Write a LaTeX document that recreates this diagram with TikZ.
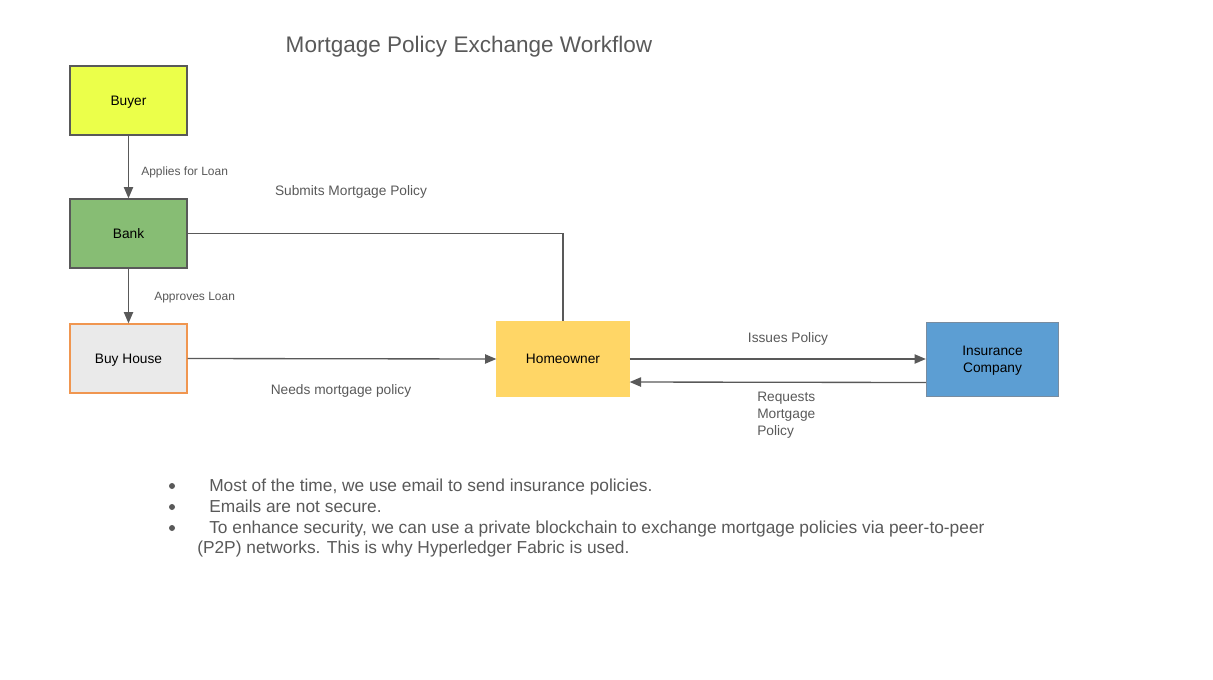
\documentclass[tikz,border=0pt]{standalone}
\usepackage{fontspec}
\setmainfont{Liberation Sans}
\usetikzlibrary{arrows.meta}
\definecolor{buyerfill}{RGB}{235,255,74}
\definecolor{bankfill}{RGB}{135,189,116}
\definecolor{housefill}{RGB}{234,234,234}
\definecolor{houseline}{RGB}{240,150,80}
\definecolor{ownerfill}{RGB}{255,214,102}
\definecolor{insfill}{RGB}{92,158,211}
\definecolor{insline}{RGB}{120,140,160}
\definecolor{boxline}{RGB}{89,89,89}
\definecolor{textgray}{RGB}{89,89,89}

\begin{document}
\begin{tikzpicture}[
        x=0.75pt, y=-0.75pt,
        box/.style = {rectangle, draw=boxline, line width=1pt, minimum width=87.75pt, minimum height=51.75pt, inner sep=2pt, align=center, text depth=0pt, font=\fontsize{10.3}{12.5}\selectfont},
        bigbox/.style = {box, minimum width=99pt, minimum height=55.5pt},
        arrow/.style = {draw=boxline, line width=1pt, -{Triangle[length=8.5pt, width=7pt]}},
        link/.style = {draw=boxline, line width=1pt},
        edgetext/.style = {text=textgray, font=\fontsize{10.3}{12.75}\selectfont, inner sep=0pt, text depth=0pt, align=left},
        smalltext/.style = {text=textgray, font=\fontsize{9}{11}\selectfont, inner sep=0pt, text depth=0pt},
        notetext/.style = {text=textgray, font=\fontsize{13}{15}\selectfont, inner sep=0pt, anchor=base west},
        bulletdot/.style = {circle, fill=textgray, inner sep=0pt, minimum size=4.5pt}
        ]
        \useasboundingbox (0,0) rectangle (1213,679);
        \node[text=textgray, font=\fontsize{16.9}{20}\selectfont, inner sep=0pt, text depth=0pt] (title) at (469,44.5) {Mortgage Policy Exchange Workflow};

        \node[box, fill=buyerfill] (buyer) at (128.5,100.5) {Buyer};
        \node[box, fill=bankfill] (bank) at (128.5,233.5) {Bank};
        \node[box, fill=housefill, draw=houseline] (house) at (128.5,358.5) {Buy House};
        \node[bigbox, fill=ownerfill, draw=ownerfill] (owner) at (563,359) {Homeowner};
        \node[bigbox, fill=insfill, draw=insline] (insurer) at (992.5,359.5) {Insurance\\Company};

        \draw[arrow] (buyer) -- (bank);
        \draw[arrow] (bank) -- (house);
        \draw[link] (bank.east) -| (owner.north);
        \draw[arrow] (house.east) -- (owner.west);
        \draw[arrow] (owner.east) -- ([yshift=0.375pt]insurer.west);
        \draw[arrow] ([yshift=-17.25pt]insurer.west) -- ([yshift=-17.25pt]owner.east);

        \node[smalltext, anchor=west] (applies) at (141,171) {Applies for Loan};
        \node[smalltext, anchor=west] (approves) at (154,296.5) {Approves Loan};
        \node[edgetext] (submits) at (351,191) {Submits Mortgage Policy};
        \node[edgetext] (needs) at (341,390) {Needs mortgage policy};
        \node[edgetext] (issues) at (788,337.5) {Issues Policy};
        \node[edgetext, anchor=north west] (requests) at (757,391.5) {Requests\\Mortgage\\Policy};

        \node[bulletdot] (dot1) at (172,486) {};
        \node[bulletdot] (dot2) at (172,507) {};
        \node[bulletdot] (dot3) at (172,528) {};
        \node[notetext] (note1) at (209,491) {Most of the time, we use email to send insurance policies.};
        \node[notetext] (note2) at (209,512) {Emails are not secure.};
        \node[notetext] (note3) at (209,533) {To enhance security, we can use a private blockchain to exchange mortgage policies via peer-to-peer};
        \node[notetext] (note4) at (197,553.5) {(P2P) networks. This is why Hyperledger Fabric is used.};
\end{tikzpicture}
\end{document}
